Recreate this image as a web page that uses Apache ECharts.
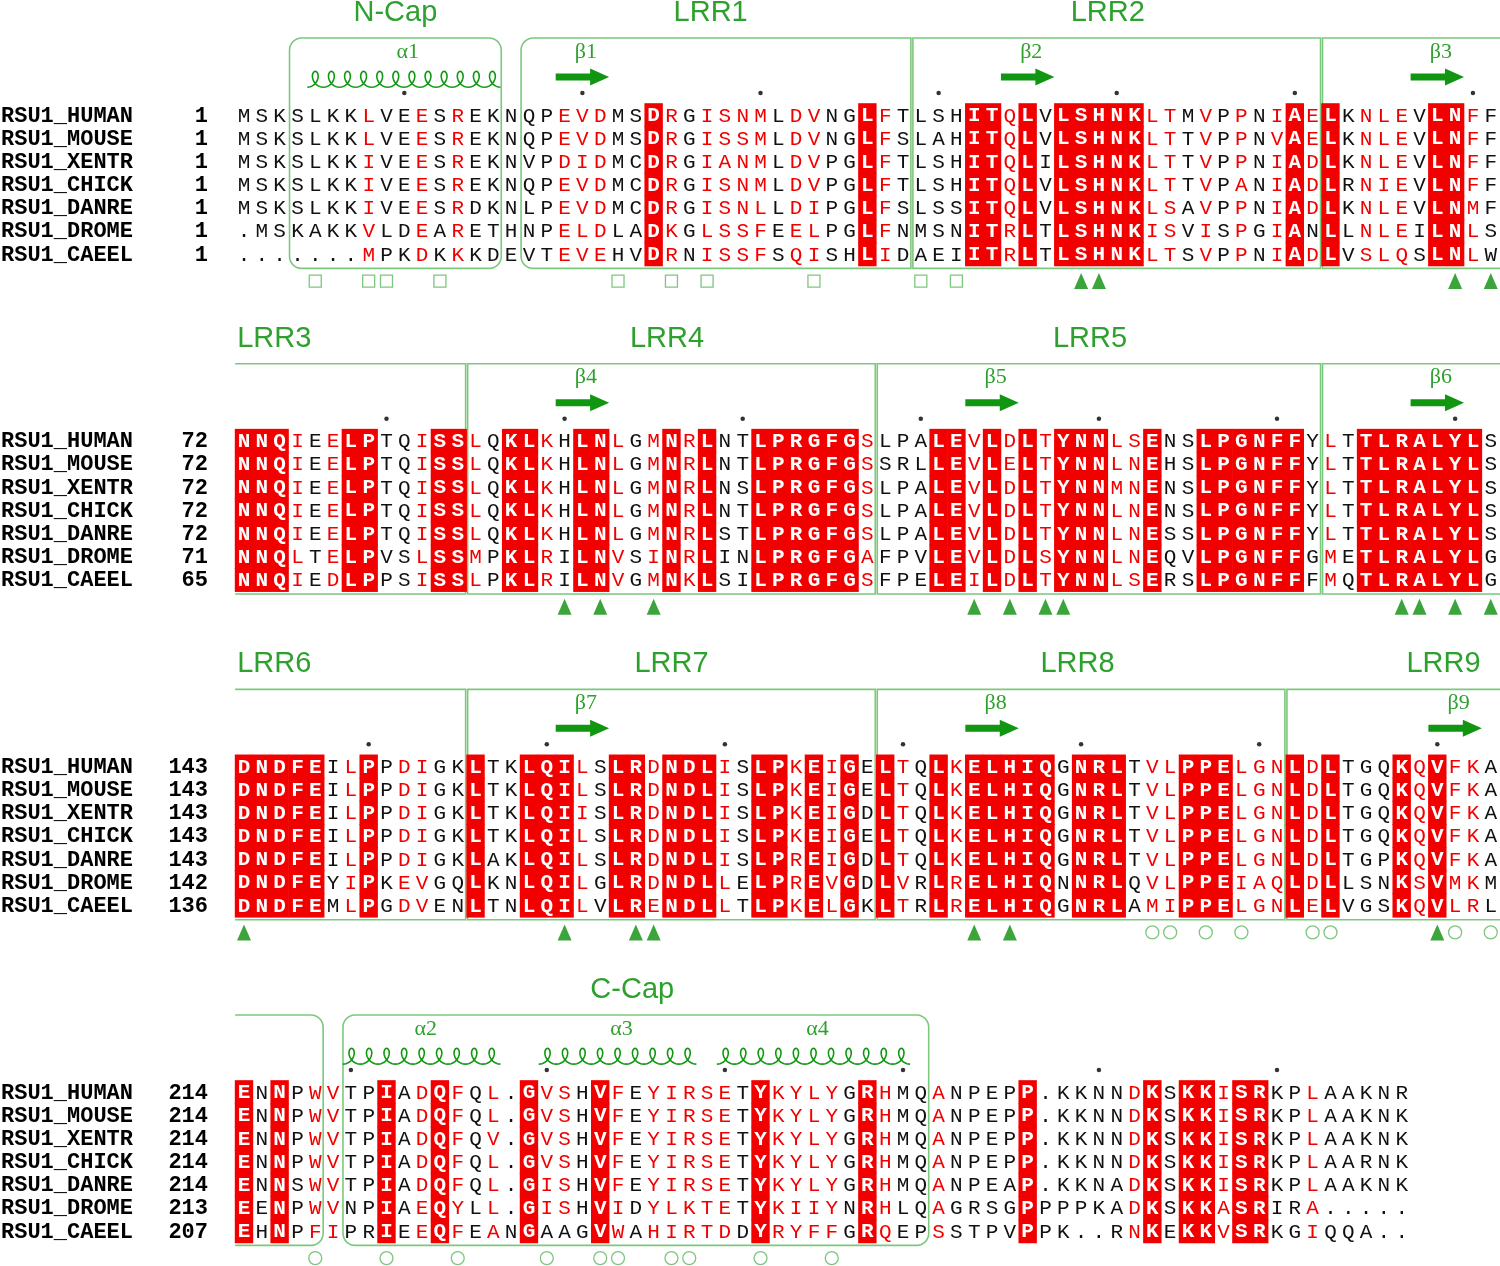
<!DOCTYPE html>
<html>
<head>
<meta charset="utf-8">
<title>RSU1 alignment</title>
<script src="https://cdn.jsdelivr.net/npm/echarts@6.0.0/dist/echarts.min.js"></script>
<style>
html,body{margin:0;padding:0;background:#ffffff;}
#chart{width:1500px;height:1266px;}
</style>
</head>
<body>
<div id="chart"></div>
<script>
// ================= DATA =================
const SEQ_NAMES = ['RSU1_HUMAN','RSU1_MOUSE','RSU1_XENTR','RSU1_CHICK','RSU1_DANRE','RSU1_DROME','RSU1_CAEEL'];

const START_POS = [
  [1, 1, 1, 1, 1, 1, 1],
  [72, 72, 72, 72, 72, 71, 65],
  [143, 143, 143, 143, 143, 142, 136],
  [214, 214, 214, 214, 214, 213, 207]
];

// upper case = plain residue, lower case = similar residue (red letter)
const SEQ_BLOCK_1 = [
  'MSKSLKKlVEeSrEKNQPevdMSDrGisnmLdvNGLfTLSHITqLVLSHNKltMvPpNiAeLKnleVLNfF',
  'MSKSLKKlVEeSrEKNQPevdMSDrGissmLdvNGLfSLAHITqLVLSHNKltTvPpNvAeLKnleVLNfF',
  'MSKSLKKiVEeSrEKNVPdidMCDrGianmLdvPGLfTLSHITqLILSHNKltTvPpNiAdLKnleVLNfF',
  'MSKSLKKiVEeSrEKNQPevdMCDrGisnmLdvPGLfTLSHITqLVLSHNKltTvPaNiAdLRnieVLNfF',
  'MSKSLKKiVEeSrDKNLPevdMCDrGisnlLdiPGLfSLSSITqLVLSHNKlsAvPpNiAdLKnleVLNmF',
  '.MSKAKKvLDeArETHNPeldLADkGlssfEelPGLfNMSNITrLTLSHNKisViSpGiANLLnleILNlS',
  '.......mPKdKkKDEVTeveHVDrNissfSqiSHLiDAEIITrLTLSHNKltSvPpNiAdLVslqSLNlW'
];
const SEQ_BLOCK_2 = [
  'NNQiEeLPTQiSSlQKLkHLNlGmNrLNTLPRGFGsLPALEvLdLtYNNlsENSLPGNFFYlTTLRALYLS',
  'NNQiEeLPTQiSSlQKLkHLNlGmNrLNTLPRGFGsSRLLEvLeLtYNNlnEHSLPGNFFYlTTLRALYLS',
  'NNQiEeLPTQiSSlQKLkHLNlGmNrLNSLPRGFGsLPALEvLdLtYNNmnENSLPGNFFYlTTLRALYLS',
  'NNQiEeLPTQiSSlQKLkHLNlGmNrLNTLPRGFGsLPALEvLdLtYNNlnENSLPGNFFYlTTLRALYLS',
  'NNQiEeLPTQiSSlQKLkHLNlGmNrLSTLPRGFGsLPALEvLdLtYNNlnESSLPGNFFYlTTLRALYLS',
  'NNQlTeLPVSlSSmPKLrILNvSiNrLINLPRGFGaFPVLEvLdLsYNNlnEQVLPGNFFGmETLRALYLG',
  'NNQiEdLPPSiSSlPKLrILNvGmNkLSILPRGFGsFPELEiLdLtYNNlsERSLPGNFFFmQTLRALYLG'
];
const SEQ_BLOCK_3 = [
  'DNDFEIlPPdiGKLTKLQIlSLRdNDLiSLPkEiGELtQLkELHIQGNRLTvlPPElgnLdLTGQKqVfkA',
  'DNDFEIlPPdiGKLTKLQIlSLRdNDLiSLPkEiGELtQLkELHIQGNRLTvlPPElgnLdLTGQKqVfkA',
  'DNDFEIlPPdiGKLTKLQIiSLRdNDLiSLPkEiGDLtQLkELHIQGNRLTvlPPElgnLdLTGQKqVfkA',
  'DNDFEIlPPdiGKLTKLQIlSLRdNDLiSLPkEiGELtQLkELHIQGNRLTvlPPElgnLdLTGQKqVfkA',
  'DNDFEIlPPdiGKLAKLQIlSLRdNDLiSLPrEiGDLtQLkELHIQGNRLTvlPPElgnLdLTGPKqVfkA',
  'DNDFEYiPKevGQLKNLQIlGLRdNDLlELPrEvGDLvRLrELHIQNNRLQvlPPEiaqLdLLSNKsVmkM',
  'DNDFEMlPGdvENLTNLQIlVLReNDLlTLPkElGKLtRLrELHIQGNRLAmiPPElgnLeLVGSKqVlrL'
];
const SEQ_BLOCK_4 = [
  'ENNPwvTPIAdQfQl.GvsHVfEyirseTYkylyGRhMQaNPEPP.KKNNdKSKKiSRKPlAAKNR',
  'ENNPwvTPIAdQfQl.GvsHVfEyirseTYkylyGRhMQaNPEPP.KKNNdKSKKiSRKPlAAKNK',
  'ENNPwvTPIAdQfQv.GvsHVfEyirseTYkylyGRhMQaNPEPP.KKNNdKSKKiSRKPlAAKNK',
  'ENNPwvTPIAdQfQl.GvsHVfEyirseTYkylyGRhMQaNPEPP.KKNNdKSKKiSRKPlAARNK',
  'ENNSwvTPIAdQfQl.GisHVfEyirseTYkylyGRhMQaNPEAP.KKNAdKSKKiSRKPlAAKNK',
  'EENPwvNPIAeQyLl.GisHViDylkteTYkiiyNRhLQaGRSGPPPPKAdKSKKaSRIRa.....',
  'EHNPfiPRIEeQfEaNGAAGVwAhirtdDYryffGRqEPsSTPVPPK..RnKEKKvSRKGiQQA..'
];

// strictly conserved columns (white letter on red)
const IDENT_BLOCK_1 = [24,36,42,43,45,47,48,49,50,51,60,62,68,69];
const IDENT_BLOCK_2 = [1,2,3,7,8,12,13,16,17,20,21,25,27,30,31,32,33,34,35,40,41,43,45,47,48,49,52,55,56,57,58,59,60,64,65,66,67,68,69,70];
const IDENT_BLOCK_3 = [1,2,3,4,5,8,14,17,18,19,22,23,25,26,27,30,31,33,35,37,40,42,43,44,45,46,48,49,50,54,55,56,60,62,66,68];
const IDENT_BLOCK_4 = [1,3,9,12,17,21,30,36,45,52,54,55,57,58];

// domain segments per block: [label, first column, last column] (null = runs over the block edge)
const DOMAINS_BLOCK_1 = [['N-Cap',4,15],['LRR1',17,38],['LRR2',39,61],['LRR3',62,null]];
const DOMAINS_BLOCK_2 = [['LRR3',null,13],['LRR4',14,36],['LRR5',37,61],['LRR6',62,null]];
const DOMAINS_BLOCK_3 = [['LRR6',null,13],['LRR7',14,36],['LRR8',37,59],['LRR9',60,null]];
const DOMAINS_BLOCK_4 = [['LRR9',null,5],['C-Cap',7,39]];

// domain titles: [block, label, anchor column]
const DOMAIN_TITLES = [
  [0,'N-Cap',9.5],[0,'LRR1',27.2],[0,'LRR2',49.5],
  [1,'LRR3',2.7],[1,'LRR4',24.75],[1,'LRR5',48.5],
  [2,'LRR6',2.7],[2,'LRR7',25.0],[2,'LRR8',47.8],[2,'LRR9',68.35],
  [3,'C-Cap',22.8]
];

// secondary structure: [block, label, kind, first column, last column, helix turns]
const SEC_STRUCT = [
  [0,'α1','helix',5,15,12],[0,'β1','strand',19,21,0],[0,'β2','strand',44,46,0],[0,'β3','strand',67,69,0],
  [1,'β4','strand',19,21,0],[1,'β5','strand',42,44,0],[1,'β6','strand',67,69,0],
  [2,'β7','strand',19,21,0],[2,'β8','strand',42,44,0],[2,'β9','strand',68,70,0],
  [3,'α2','helix',7,15,9],[3,'α3','helix',18,26,9],[3,'α4','helix',28,38,11]
];

// marks under the alignment: [block, column]
const MARK_SQUARES = [[0,5],[0,8],[0,9],[0,12],[0,22],[0,25],[0,27],[0,33],[0,39],[0,41]];
const MARK_TRIANGLES = [[0,48],[0,49],[0,69],[0,71],
  [1,19],[1,21],[1,24],[1,42],[1,44],[1,46],[1,47],[1,66],[1,67],[1,69],[1,71],
  [2,1],[2,19],[2,23],[2,24],[2,42],[2,44],[2,68]];
const MARK_CIRCLES = [[2,52],[2,53],[2,55],[2,57],[2,61],[2,62],[2,69],[2,71],
  [3,5],[3,9],[3,13],[3,18],[3,21],[3,22],[3,25],[3,26],[3,30],[3,34]];

// ================= LAYOUT / STYLE =================
const SEQS = [SEQ_BLOCK_1, SEQ_BLOCK_2, SEQ_BLOCK_3, SEQ_BLOCK_4];
const IDENTS = [IDENT_BLOCK_1, IDENT_BLOCK_2, IDENT_BLOCK_3, IDENT_BLOCK_4];
const DOMAINS = [DOMAINS_BLOCK_1, DOMAINS_BLOCK_2, DOMAINS_BLOCK_3, DOMAINS_BLOCK_4];

const X_MIN = -12.70, X_MAX = 71.52;
const Y_MIN = -4.963, Y_MAX = 49.68;
const BLOCK_STEP = 14.056;
const OFF = {title:-4.40, ssLabel:-2.72, strand:-1.64, helixBase:-1.20, helixTop:-1.88,
             dot:-0.95, boxTop:-3.32, boxBottom:6.62, marks:7.17, numberCol:-1.02};
const RED = '#f20000';
const BOX_GREEN = '#7cc87c';
const TITLE_GREEN = '#2ea02e';
const SS_GREEN = '#119611';
const MONO = '"Liberation Mono", "DejaVu Sans Mono", monospace';
const TEXT_DY = 1;

function rowY(b, r) { return b * BLOCK_STEP + r; }

// residues
const residueData = [];
SEQS.forEach((rows, b) => rows.forEach((s, r) => {
  for (let c = 1; c <= s.length; c++) residueData.push([c, rowY(b, r), b, r]);
}));

// row labels
const labelData = [];
for (let b = 0; b < 4; b++) for (let r = 0; r < 7; r++) labelData.push([X_MIN, rowY(b, r), b, r]);

// boxes
const boxData = [];
DOMAINS.forEach((list, b) => list.forEach((d, i) => {
  const openL = d[1] === null, openR = d[2] === null;
  const adjL = !openL && i > 0 && list[i-1][2] === d[1] - 1;
  const adjR = !openR && i < list.length - 1 && list[i+1][1] === d[2] + 1;
  boxData.push([openL ? 0.5 : d[1] - 0.5, rowY(b, 0), openR ? X_MAX : d[2] + 0.5,
                openL ? 1 : 0, openR ? 1 : 0, adjL ? 1 : 0, adjR ? 1 : 0]);
}));

// dots every 10 residues of the first sequence
const dotData = [];
SEQS.forEach((rows, b) => {
  let n = START_POS[b][0] - 1;
  const s = rows[0];
  for (let c = 1; c <= s.length; c++) {
    if (s.charAt(c-1) !== '.') { n++; if (n % 10 === 0) dotData.push([c, rowY(b, 0) + OFF.dot]); }
  }
});

const titleData = DOMAIN_TITLES.map((t, i) => [t[2], rowY(t[0], 0) + OFF.title, i]);
const ssData = SEC_STRUCT.map((s, i) => [(s[3] + s[4]) / 2, rowY(s[0], 0), i]);
const markPos = m => [m[1], rowY(m[0], 6) - 6 + OFF.marks];

function cornerPts(cx, cy, r, a0, a1) {
  const pts = [];
  if (r <= 0) return [[cx, cy]];
  for (let k = 0; k <= 8; k++) {
    const a = (a0 + (a1 - a0) * k / 8) * Math.PI / 180;
    pts.push([cx + r * Math.cos(a), cy + r * Math.sin(a)]);
  }
  return pts;
}

function renderBox(params, api) {
  const x0c = api.value(0), y0 = api.value(1), x1c = api.value(2);
  const openL = api.value(3), openR = api.value(4), adjL = api.value(5), adjR = api.value(6);
  const yT = api.coord([0, y0 + OFF.boxTop])[1];
  const yB = api.coord([0, y0 + OFF.boxBottom])[1];
  let x0 = api.coord([x0c, 0])[0], x1 = api.coord([x1c, 0])[0];
  if (!openL) x0 += 1;
  if (!openR) x1 -= 1;
  const R = 12;
  const rl = (!openL && !adjL) ? R : 0;
  const rr = (!openR && !adjR) ? R : 0;
  const TL = rl ? cornerPts(x0 + rl, yT + rl, rl, 180, 270) : [[x0, yT]];
  const TR = rr ? cornerPts(x1 - rr, yT + rr, rr, 270, 360) : [[x1, yT]];
  const BR = rr ? cornerPts(x1 - rr, yB - rr, rr, 0, 90) : [[x1, yB]];
  const BL = rl ? cornerPts(x0 + rl, yB - rl, rl, 90, 180) : [[x0, yB]];
  const st = {stroke: BOX_GREEN, lineWidth: 1.6, fill: null};
  if (!openL && !openR) {
    return {type: 'polygon', shape: {points: TL.concat(TR, BR, BL)}, style: st};
  }
  if (openL) {
    return {type: 'polyline', shape: {points: [[x0, yT]].concat(TR, BR, [[x0, yB]])}, style: st};
  }
  return {type: 'polyline', shape: {points: [[x1, yB]].concat(BL, TL, [[x1, yT]])}, style: st};
}

function renderResidue(params, api) {
  const c = api.value(0), y = api.value(1), b = api.value(2), r = api.value(3);
  const ch = SEQS[b][r].charAt(c - 1);
  const p = api.coord([c, y]);
  const s = api.size([1, 1]);
  const ident = IDENTS[b].indexOf(c) >= 0;
  const kids = [];
  if (ident) {
    kids.push({type: 'rect', shape: {x: p[0] - s[0] / 2 - 0.3, y: p[1] - s[1] / 2 - 0.2,
      width: s[0] + 0.6, height: s[1] + 0.9}, style: {fill: RED}});
  }
  const similar = ch !== ch.toUpperCase();
  kids.push({type: 'text', x: p[0], y: p[1] + TEXT_DY, style: {
    text: ch.toUpperCase(), fill: ident ? '#ffffff' : (similar ? RED : '#111111'),
    font: (ident ? 'bold ' : '') + '21px ' + MONO,
    align: 'center', verticalAlign: 'middle', textAlign: 'center', textVerticalAlign: 'middle'}});
  return {type: 'group', children: kids};
}

function renderLabel(params, api) {
  const y = api.value(1), b = api.value(2), r = api.value(3);
  const pName = api.coord([X_MIN, y]);
  const pNum = api.coord([OFF.numberCol, y]);
  const font = 'bold 22px ' + MONO;
  return {type: 'group', children: [
    {type: 'text', x: pName[0] + 1, y: pName[1] + TEXT_DY, style: {text: SEQ_NAMES[r], fill: '#000', font: font,
      align: 'left', verticalAlign: 'middle', textAlign: 'left', textVerticalAlign: 'middle'}},
    {type: 'text', x: pNum[0], y: pNum[1] + TEXT_DY, style: {text: String(START_POS[b][r]), fill: '#000', font: font,
      align: 'right', verticalAlign: 'middle', textAlign: 'right', textVerticalAlign: 'middle'}}
  ]};
}

function renderTitle(params, api) {
  const p = api.coord([api.value(0), api.value(1)]);
  const t = DOMAIN_TITLES[api.value(2)];
  return {type: 'text', x: p[0], y: p[1], style: {text: t[1], fill: TITLE_GREEN,
    font: '29px "Liberation Sans", Arial, sans-serif',
    align: 'center', verticalAlign: 'middle', textAlign: 'center', textVerticalAlign: 'middle'}};
}

function renderSS(params, api) {
  const s = SEC_STRUCT[api.value(2)];
  const y0 = api.value(1);
  const kids = [];
  const lp = api.coord([(s[3] + s[4]) / 2 + 0.2, y0 + OFF.ssLabel]);
  kids.push({type: 'text', x: lp[0], y: lp[1], style: {text: s[1], fill: TITLE_GREEN,
    font: '22px "Liberation Serif", "DejaVu Serif", serif',
    align: 'center', verticalAlign: 'middle', textAlign: 'center', textVerticalAlign: 'middle'}});
  if (s[2] === 'strand') {
    const xa = api.coord([s[3] - 0.5, 0])[0], xb = api.coord([s[4] + 0.5, 0])[0];
    const yc = api.coord([0, y0 + OFF.strand])[1];
    const head = 19, hs = 3.5, hh = 8.5;
    kids.push({type: 'polygon', shape: {points: [[xa, yc - hs], [xb - head, yc - hs], [xb - head, yc - hh],
      [xb, yc], [xb - head, yc + hh], [xb - head, yc + hs], [xa, yc + hs]]}, style: {fill: SS_GREEN}});
  } else {
    const xs = api.coord([s[3] - 0.45, 0])[0], xe = api.coord([s[4] + 0.4, 0])[0];
    const yb = api.coord([0, y0 + OFF.helixBase])[1], yt = api.coord([0, y0 + OFF.helixTop])[1];
    const h = yb - yt, turns = s[5];
    const period = (xe - xs) / turns;
    const a = 6.4;
    const pts = [];
    const N = turns * 36;
    for (let k = 0; k <= N; k++) {
      const t = 2 * Math.PI * turns * k / N;
      pts.push([xs + period * t / (2 * Math.PI) + a * Math.sin(t), yb - h * (1 - Math.cos(t)) / 2]);
    }
    kids.push({type: 'polyline', shape: {points: pts}, style: {stroke: SS_GREEN, lineWidth: 1.6, fill: null}});
  }
  return {type: 'group', children: kids};
}

const chart = echarts.init(document.getElementById('chart'), null, {renderer: 'canvas'});
chart.setOption({
  animation: false,
  backgroundColor: '#ffffff',
  grid: {left: 0, right: 0, top: 0, bottom: 0, containLabel: false},
  xAxis: {type: 'value', min: X_MIN, max: X_MAX, show: false},
  yAxis: {type: 'value', min: Y_MIN, max: Y_MAX, inverse: true, show: false},
  tooltip: {show: false},
  series: [
    {type: 'custom', name: 'domains', coordinateSystem: 'cartesian2d', renderItem: renderBox, data: boxData, z: 1, clip: false},
    {type: 'custom', name: 'residues', coordinateSystem: 'cartesian2d', renderItem: renderResidue, data: residueData, z: 2, clip: false},
    {type: 'custom', name: 'labels', coordinateSystem: 'cartesian2d', renderItem: renderLabel, data: labelData, z: 2, clip: false},
    {type: 'custom', name: 'titles', coordinateSystem: 'cartesian2d', renderItem: renderTitle, data: titleData, z: 2, clip: false},
    {type: 'custom', name: 'secondary', coordinateSystem: 'cartesian2d', renderItem: renderSS, data: ssData, z: 2, clip: false},
    {type: 'scatter', name: 'dots', data: dotData, symbol: 'circle', symbolSize: 4.5,
      itemStyle: {color: '#000'}, silent: true, z: 3},
    {type: 'scatter', name: 'squares', data: MARK_SQUARES.map(markPos), symbol: 'rect', symbolSize: 12,
      itemStyle: {color: 'rgba(255,255,255,0)', borderColor: '#5cb85c', borderWidth: 1.3}, silent: true, z: 3},
    {type: 'scatter', name: 'triangles', data: MARK_TRIANGLES.map(markPos), symbol: 'triangle', symbolSize: [14, 16],
      itemStyle: {color: '#0a8f0a'}, silent: true, z: 3},
    {type: 'scatter', name: 'circles', data: MARK_CIRCLES.map(markPos), symbol: 'circle', symbolSize: 13,
      itemStyle: {color: 'rgba(255,255,255,0)', borderColor: '#5cb85c', borderWidth: 1.3}, silent: true, z: 3}
  ]
});
</script>
</body>
</html>
